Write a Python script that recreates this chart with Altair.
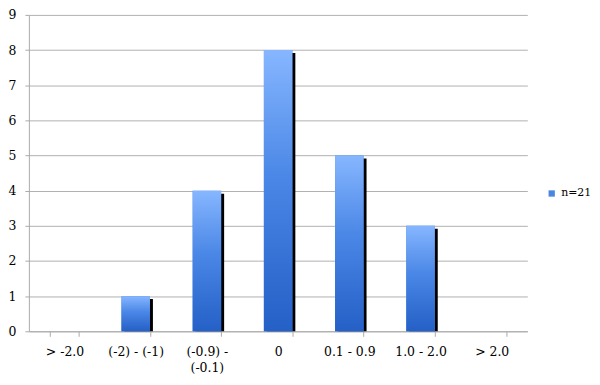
import altair as alt
import pandas as pd

categories = ["> -2.0", "(-2) - (-1)", "(-0.9) - (-0.1)", "0", "0.1 - 0.9", "1.0 - 2.0", "> 2.0"]
values = [0, 1, 4, 8, 5, 3, 0]
series = "n=21"

df = pd.DataFrame({"cat": categories, "value": values, "series": [series] * len(categories)})

FONT = "DejaVu Serif"

x = alt.X(
    "cat:N",
    sort=categories,
    title=None,
    scale=alt.Scale(paddingInner=0.6, paddingOuter=0.3),
    axis=alt.Axis(
        tickBand="extent",
        labelAngle=0,
        tickSize=5,
        labelPadding=9,
        labelFont=FONT,
        labelFontSize=12.5,
        labelColor="#000000",
        domainColor="#aaaaaa",
        tickColor="#aaaaaa",
        labelExpr="datum.value == '(-0.9) - (-0.1)' ? ['(-0.9) -', '(-0.1)'] : datum.label",
        labelLineHeight=16,
    ),
)
y = alt.Y(
    "value:Q",
    title=None,
    scale=alt.Scale(domain=[0, 9], nice=False),
    axis=alt.Axis(
        values=list(range(10)),
        tickSize=4,
        labelPadding=9,
        labelFont=FONT,
        labelFontSize=12.5,
        labelColor="#000000",
        domainColor="#aaaaaa",
        tickColor="#aaaaaa",
        gridColor="#b0b0b0",
    ),
)

base = alt.Chart(df)

shadow = base.transform_filter("datum.value > 0").mark_bar(
    color="#000000", xOffset=3, yOffset=3, y2Offset=0
).encode(x=x, y=y, y2=alt.datum(0))

plain = base.mark_bar().encode(
    x=x,
    y=y,
    color=alt.Color(
        "series:N",
        title=None,
        scale=alt.Scale(range=["#4a86e0"]),
        legend=alt.Legend(
            orient="none",
            legendX=520,
            legendY=174,
            symbolType="square",
            symbolSize=40,
            labelFont=FONT,
            labelFontSize=11,
            labelColor="#000000",
            labelOffset=4,
        ),
    ),
)

grad = base.mark_bar(
    color=alt.Gradient(
        gradient="linear",
        x1=0, x2=0, y1=0, y2=1,
        stops=[
            alt.GradientStop(offset=0, color="#86b6ff"),
            alt.GradientStop(offset=0.45, color="#4a87e6"),
            alt.GradientStop(offset=1, color="#2460c6"),
        ],
    )
).encode(x=x, y=y)

chart = (
    alt.layer(shadow, plain, grad)
    .properties(width=501, height=318, padding={"left": 0, "top": 0, "right": 0, "bottom": 0})
    .configure_view(stroke=None)
    .configure_axisY(domain=True)
    .configure_axisX(grid=False)
)

chart.save("out.html", embed_options={"renderer": "svg", "actions": False})
